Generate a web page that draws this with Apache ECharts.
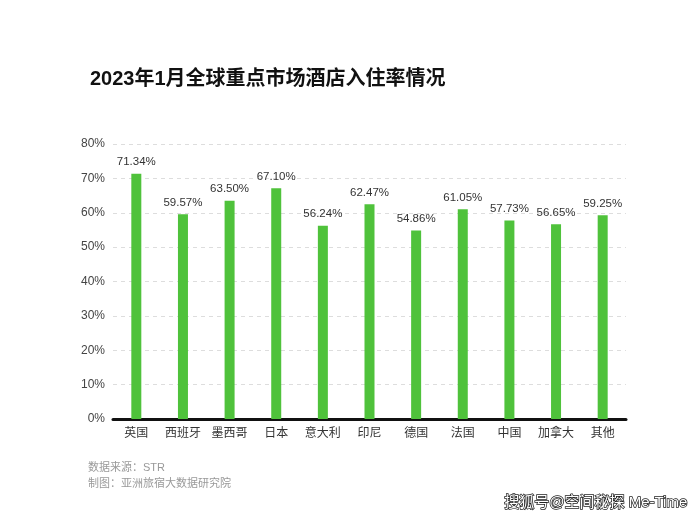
<!DOCTYPE html>
<html><head><meta charset="utf-8">
<script src="https://cdn.jsdelivr.net/npm/echarts@6/dist/echarts.min.js"></script>
<style>html,body{margin:0;padding:0;background:#fff}#c{width:700px;height:522px}</style>
</head><body><div id="c"></div>
<script>
const categories = ["英国","西班牙","墨西哥","日本","意大利","印尼","德国","法国","中国","加拿大","其他"];
const occupancy = [71.34,59.57,63.50,67.10,56.24,62.47,54.86,61.05,57.73,56.65,59.25];
const yTicks = [0,10,20,30,40,50,60,70,80];
const titleText = "2023年1月全球重点市场酒店入住率情况";
const sourceText = "数据来源：STR";
const makerText = "制图：亚洲旅宿大数据研究院";
const watermarkText = "搜狐号@空间秘探 Me-Time";

const chart = echarts.init(document.getElementById('c'), null, {renderer:'canvas'});
const font = '"Liberation Sans","Noto Sans CJK SC",sans-serif';
chart.setOption({
  backgroundColor:'#fff',
  animation:false,
  textStyle:{fontFamily:font},
  title:{text:titleText,left:85,top:64,textStyle:{fontSize:20,fontWeight:'bold',color:'#111',fontFamily:font}},
  grid:{left:113,right:74,top:144,bottom:103},
  xAxis:{type:'category',data:categories,
    axisLine:{lineStyle:{color:'#111',width:3}},
    axisTick:{show:false},
    axisLabel:{interval:0,color:'#333',fontSize:12,margin:9,fontFamily:font}},
  yAxis:{type:'value',min:yTicks[0],max:yTicks[yTicks.length-1],interval:10,
    axisLine:{show:false},axisTick:{show:false},
    axisLabel:{formatter:'{value}%',color:'#444',fontSize:12,margin:8,fontFamily:font},
    splitLine:{lineStyle:{color:'#ddd',type:[4,4],width:1}}},
  series:[{type:'bar',data:occupancy,barWidth:10,
    itemStyle:{color:'#4fc23b'},
    label:{show:true,position:'top',distance:6,color:'#333',fontSize:11.5,fontFamily:font,
      formatter:p=>p.value.toFixed(2)+'%'}}],
  graphic:[
    {type:'text',left:88,top:462,style:{text:sourceText,fill:'#999',font:'11px '+font}},
    {type:'text',left:88,top:478,style:{text:makerText,fill:'#999',font:'11px '+font}},
    {type:'text',right:12,top:495,style:{text:watermarkText,fill:'#fff',stroke:'#222',lineWidth:1.5,font:'15px '+font}}
  ]
});
</script></body></html>
